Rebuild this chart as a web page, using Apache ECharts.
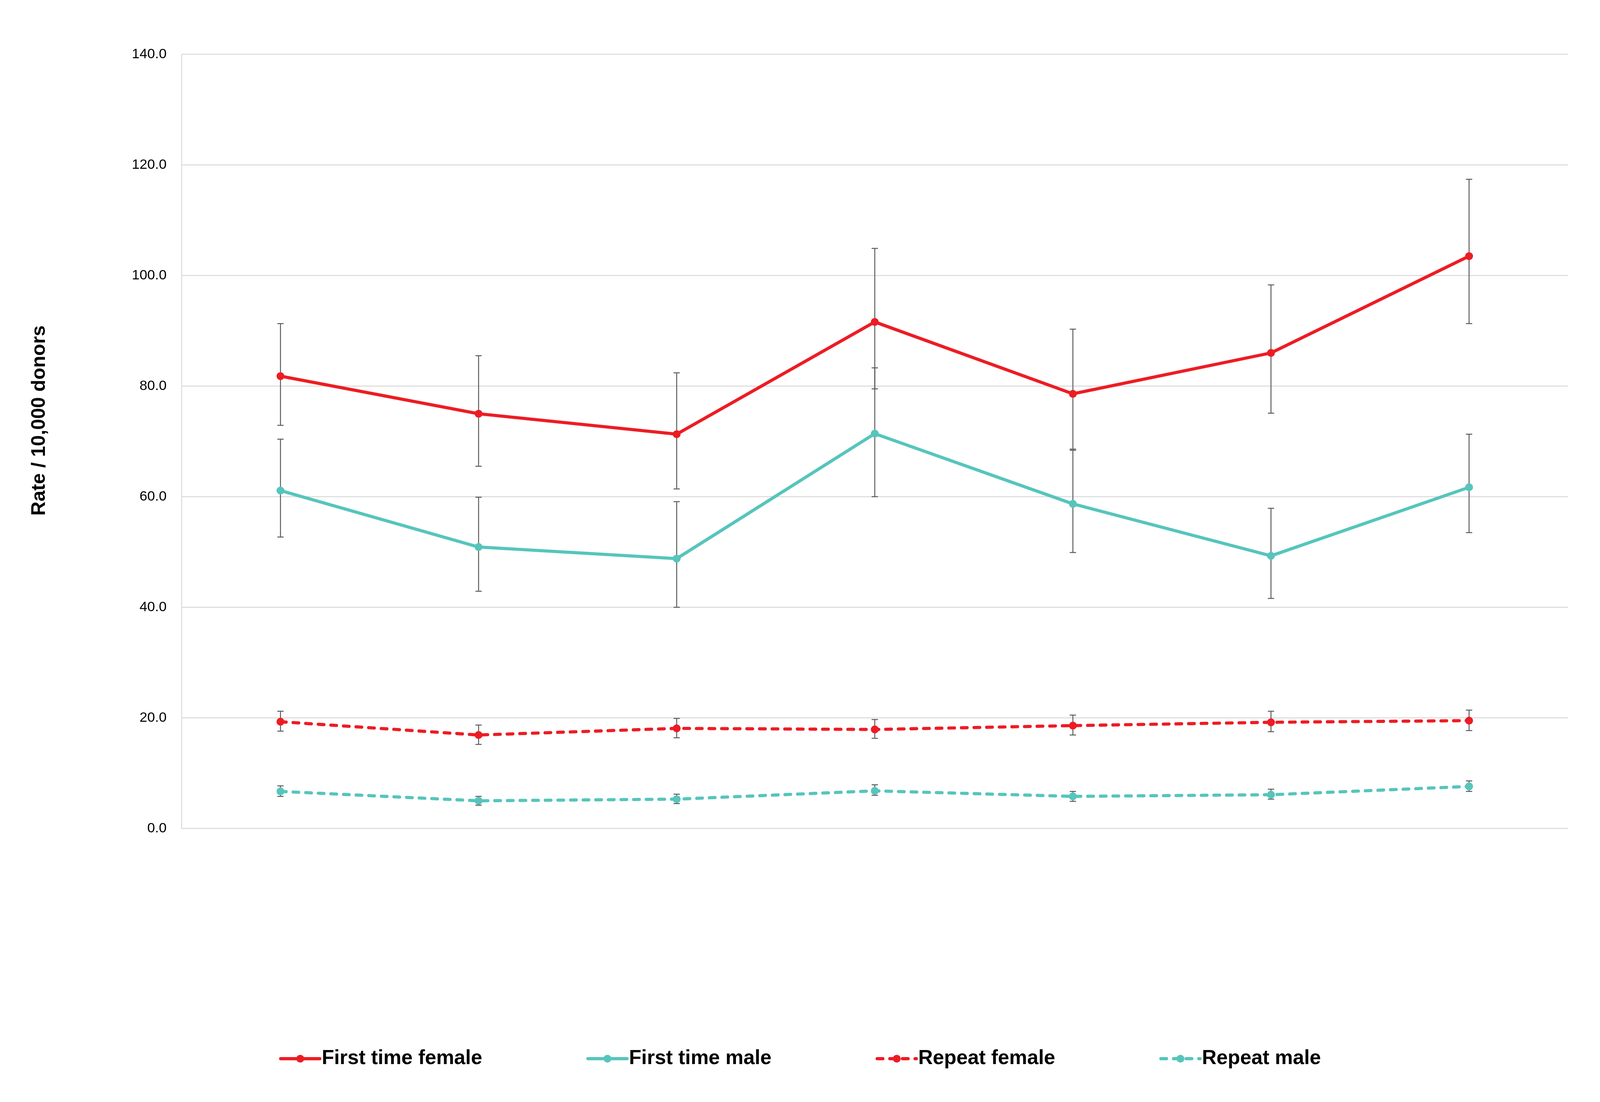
<!DOCTYPE html>
<html>
<head>
<meta charset="utf-8">
<script src="https://cdn.jsdelivr.net/npm/echarts@6/dist/echarts.min.js"></script>
<style>
  html, body { margin: 0; padding: 0; background: #fff; overflow: hidden; }
  #chart { width: 100vw; height: 100vh; }
</style>
</head>
<body>
<div id="chart"></div>
<script>
// ---- data ----
var categories = ['1', '2', '3', '4', '5', '6', '7'];
var seriesNames = ['First time female', 'First time male', 'Repeat female', 'Repeat male'];
var yTicks = [0, 20, 40, 60, 80, 100, 120, 140];
var yAxisTitle = 'Rate / 10,000 donors';

var firstTimeFemale     = [81.8, 75.0, 71.3, 91.6, 78.6, 86.0, 103.5];
var firstTimeFemaleLow  = [72.9, 65.5, 61.4, 79.5, 68.6, 75.1, 91.3];
var firstTimeFemaleHigh = [91.3, 85.5, 82.4, 104.9, 90.3, 98.3, 117.4];

var firstTimeMale     = [61.1, 50.9, 48.8, 71.4, 58.7, 49.3, 61.7];
var firstTimeMaleLow  = [52.7, 42.9, 40.0, 60.0, 49.9, 41.6, 53.5];
var firstTimeMaleHigh = [70.4, 59.9, 59.1, 83.3, 68.4, 57.9, 71.3];

var repeatFemale     = [19.3, 16.9, 18.1, 17.9, 18.6, 19.2, 19.5];
var repeatFemaleLow  = [17.6, 15.2, 16.4, 16.3, 16.9, 17.5, 17.7];
var repeatFemaleHigh = [21.2, 18.7, 19.9, 19.7, 20.5, 21.2, 21.4];

var repeatMale     = [6.7, 5.0, 5.3, 6.8, 5.8, 6.1, 7.6];
var repeatMaleLow  = [5.8, 4.2, 4.5, 6.0, 4.9, 5.3, 6.7];
var repeatMaleHigh = [7.7, 5.8, 6.2, 7.9, 6.7, 7.1, 8.6];

// ---- styling ----
var RED = '#ED1C24';
var TEAL = '#56C5BC';
var ERR = '#595959';
var FONT = 'Liberation Sans, Arial, sans-serif';

var el = document.getElementById('chart');
var W = el.clientWidth || window.innerWidth;
var H = el.clientHeight || window.innerHeight;
var sx = W / 5071;            // design sizes are for a 5071 x 2820 canvas
var sy = H / 2820;
function px(v) { return v * sx; }   // horizontal sizes, fonts, strokes
function py(v) { return v * sy; }   // vertical positions

function errData(low, high) {
  return categories.map(function (c, i) { return [i, low[i], high[i]]; });
}

function errSeries(low, high) {
  return {
    type: 'custom',
    z: 1,
    silent: true,
    data: errData(low, high),
    encode: { x: 0, y: [1, 2] },
    renderItem: function (params, api) {
      var i = api.value(0);
      var pLow = api.coord([i, api.value(1)]);
      var pHigh = api.coord([i, api.value(2)]);
      var half = px(10);
      var st = { stroke: ERR, lineWidth: px(3) };
      return {
        type: 'group',
        children: [
          { type: 'line', shape: { x1: pLow[0], y1: pLow[1], x2: pHigh[0], y2: pHigh[1] }, style: st },
          { type: 'line', shape: { x1: pLow[0] - half, y1: pLow[1], x2: pLow[0] + half, y2: pLow[1] }, style: st },
          { type: 'line', shape: { x1: pHigh[0] - half, y1: pHigh[1], x2: pHigh[0] + half, y2: pHigh[1] }, style: st }
        ]
      };
    }
  };
}

function lineSeries(name, data, color, dashed) {
  return {
    name: name,
    type: 'line',
    z: 3,
    data: data,
    symbol: 'circle',
    symbolSize: px(25),
    lineStyle: {
      color: color,
      width: px(10),
      type: dashed ? [px(18), px(22)] : 'solid',
      cap: 'round',
      join: 'round'
    },
    itemStyle: { color: color },
    emphasis: { disabled: true }
  };
}

var chart = echarts.init(el, null, { renderer: 'canvas' });

chart.setOption({
  animation: false,
  backgroundColor: '#fff',
  grid: { left: px(575), width: px(4395), top: py(139), height: py(1981), containLabel: false },
  xAxis: {
    type: 'category',
    data: categories,
    boundaryGap: true,
    axisLine: { show: false },
    axisTick: { show: false },
    axisLabel: { show: false },
    splitLine: { show: false }
  },
  yAxis: {
    type: 'value',
    min: yTicks[0],
    max: yTicks[yTicks.length - 1],
    interval: 20,
    axisLine: { show: true, lineStyle: { color: '#D9D9D9', width: px(3) } },
    axisTick: { show: false },
    axisLabel: {
      margin: px(47),
      fontSize: px(44),
      fontFamily: FONT,
      color: '#000',
      formatter: function (v) { return v.toFixed(1); }
    },
    splitLine: { show: true, lineStyle: { color: '#D9D9D9', width: px(3) } }
  },
  legend: {
    data: seriesNames,
    left: 'center',
    top: py(2704) - px(32),
    itemWidth: px(124),
    itemHeight: px(31),
    itemGap: px(330),
    lineStyle: { width: px(10), type: 'inherit', cap: 'round' },
    textStyle: { fontSize: px(64), fontWeight: 'bold', fontFamily: FONT, color: '#000', lineHeight: px(64) }
  },
  graphic: [{
    type: 'text',
    x: px(125),
    y: py(1076),
    rotation: Math.PI / 2,
    style: {
      text: yAxisTitle,
      font: 'bold ' + px(62) + 'px ' + FONT,
      fill: '#000',
      textAlign: 'center',
      textVerticalAlign: 'middle'
    }
  }],
  series: [
    errSeries(firstTimeFemaleLow, firstTimeFemaleHigh),
    errSeries(firstTimeMaleLow, firstTimeMaleHigh),
    errSeries(repeatFemaleLow, repeatFemaleHigh),
    errSeries(repeatMaleLow, repeatMaleHigh),
    lineSeries(seriesNames[0], firstTimeFemale, RED, false),
    lineSeries(seriesNames[1], firstTimeMale, TEAL, false),
    lineSeries(seriesNames[2], repeatFemale, RED, true),
    lineSeries(seriesNames[3], repeatMale, TEAL, true)
  ]
});
</script>
</body>
</html>
